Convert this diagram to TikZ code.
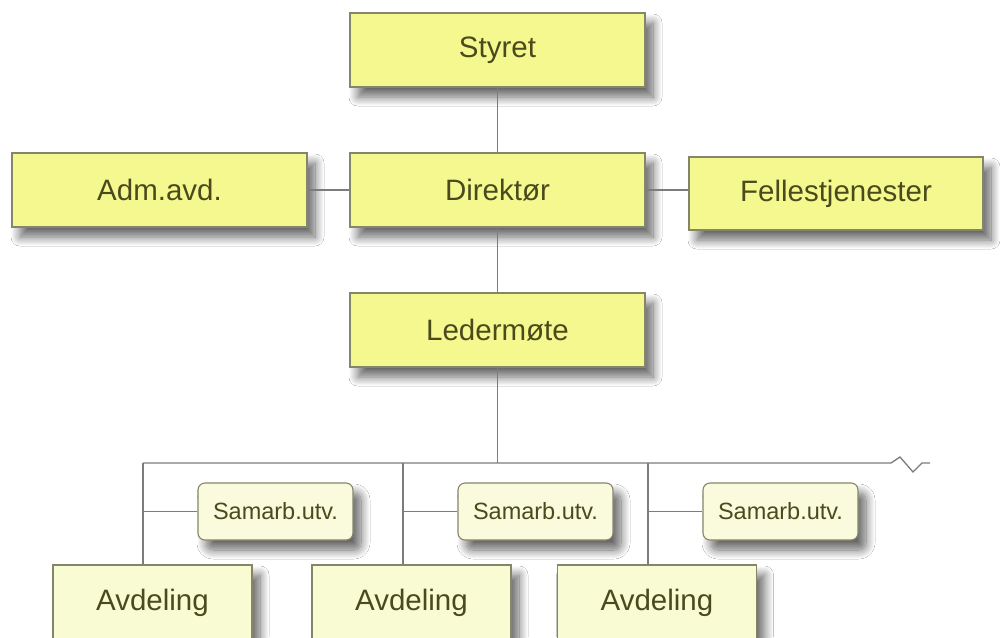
\documentclass[tikz,border=0pt]{standalone}
\usepackage{fontspec}
\setmainfont{Liberation Sans}
\usetikzlibrary{shadows.blur}
\definecolor{boxfill}{HTML}{F5F88E}
\definecolor{palefill}{HTML}{F9FBD3}
\definecolor{smallfill}{HTML}{FAFBDD}
\definecolor{boxline}{HTML}{85856A}
\definecolor{txt}{HTML}{4A4A1C}
\definecolor{wire}{HTML}{7C7C7C}
\tikzset{
  base/.style={draw=boxline, line width=1.1pt, text=txt, inner sep=0pt,
    blur shadow={shadow xshift=8pt, shadow yshift=-10pt, shadow blur radius=9pt, shadow blur steps=14, shadow opacity=60}},
  bigbox/.style={base, rectangle, fill=boxfill, minimum width=295pt, minimum height=74pt,
    font=\fontsize{29.5pt}{32pt}\selectfont},
  unitbox/.style={base, rectangle, fill=palefill, minimum width=199pt, minimum height=76pt,
    font=\fontsize{29.5pt}{32pt}\selectfont},
  smallbox/.style={base, rectangle, rounded corners=7pt, fill=smallfill, minimum width=155pt, minimum height=57pt,
    font=\fontsize{23.5pt}{26pt}\selectfont},
  wireline/.style={draw=wire, line width=1.3pt}
}
\begin{document}
\begin{tikzpicture}[x=1pt,y=-1pt]
\path[use as bounding box, clip] (0,0) rectangle (1000,637);
\fill[white] (0,0) rectangle (1000,637);

\coordinate (d1) at (143,463);
\coordinate (d2) at (403,463);
\coordinate (d3) at (648,463);
\coordinate (z) at (891,463);

\node[bigbox] (sty) at (497.5,50) {Styret};
\node[bigbox] (dir) at (497.5,190) {Direktør};
\node[bigbox] (adm) at (159.5,190) {Adm.avd.};
\node[bigbox, minimum width=294pt, minimum height=73pt] (fel) at (836,193.5) {Fellestjenester};
\node[bigbox] (led) at (497.5,330) {Ledermøte};

\node[smallbox] (s1) at (275.5,511.5) {Samarb.utv.};
\node[smallbox] (s2) at (535.5,511.5) {Samarb.utv.};
\node[smallbox] (s3) at (780.5,511.5) {Samarb.utv.};

\node[unitbox] (a1) at (152.5,603) {Avdeling};
\node[unitbox] (a2) at (411.5,603) {Avdeling};
\node[unitbox] (a3) at (657,603) {Avdeling};

\draw[wireline] (sty.south) -- (dir.north);
\draw[wireline] (adm.east) -- (dir.west);
\draw[wireline] (dir.east) -- (dir.east -| fel.west);
\draw[wireline] (dir.south) -- (led.north);
\draw[wireline] (led.south) -- (led.south |- d1);
\draw[wireline, line join=miter] (d1) -- (z) -- ++(9,-6) -- ++(13,15) -- ++(9,-9) -- ++(8,0);
\draw[wireline] (d1) -- (d1 |- a1.north);
\draw[wireline] (d2) -- (d2 |- a2.north);
\draw[wireline] (d3) -- (d3 |- a3.north);
\draw[wireline] (d1 |- s1.west) -- (s1.west);
\draw[wireline] (d2 |- s2.west) -- (s2.west);
\draw[wireline] (d3 |- s3.west) -- (s3.west);
\end{tikzpicture}
\end{document}
